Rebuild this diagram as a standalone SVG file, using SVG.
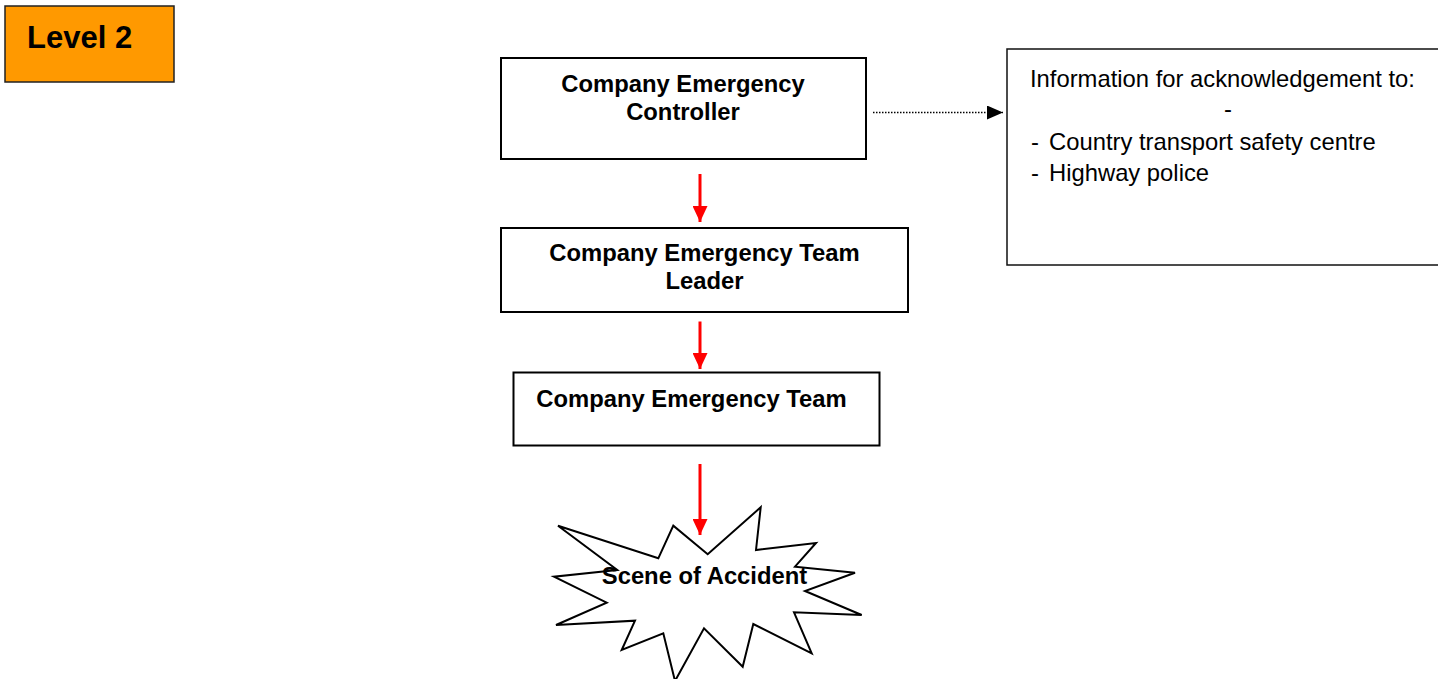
<svg xmlns="http://www.w3.org/2000/svg" width="1438" height="679" viewBox="0 0 1438 679">
<defs>
<style>
.box{fill:#fff;stroke:#000;stroke-width:2}
.b{font-family:"Liberation Sans",Arial,sans-serif;font-weight:bold;font-size:23.8px;fill:#000}
.r{font-family:"Liberation Sans",Arial,sans-serif;font-size:23.8px;fill:#000}
.red{stroke:#f00;stroke-width:3;fill:none}
</style>
<marker id="ra" viewBox="0 0 16 15" refX="16" refY="7.5" markerWidth="16" markerHeight="15" markerUnits="userSpaceOnUse" orient="auto">
<path d="M0,0L16,7.5L0,15z" fill="#f00"/>
</marker>
<marker id="ba" viewBox="0 0 16 14" refX="16" refY="7" markerWidth="16" markerHeight="14" markerUnits="userSpaceOnUse" orient="auto">
<path d="M0,0L16,7L0,14z" fill="#000"/>
</marker>
</defs>
<rect width="1438" height="679" fill="#fff"/>
<g id="level2">
<rect x="5" y="6" width="169" height="76" fill="#f90" stroke="#222" stroke-width="1.5"/>
<text x="27" y="47.5" class="b" style="font-size:31px">Level 2</text>
</g>
<g id="controller">
<rect class="box" x="501" y="58" width="365" height="101"/>
<text x="683" y="91.5" class="b" text-anchor="middle">Company Emergency</text>
<text x="683" y="120" class="b" text-anchor="middle">Controller</text>
</g>
<g id="info">
<rect x="1007" y="49" width="440" height="216" fill="#fff" stroke="#111" stroke-width="1.5"/>
<text x="1030" y="87" class="r">Information for acknowledgement to:</text>
<text x="1224" y="117" class="r">-</text>
<text x="1031" y="150" class="r">-</text>
<text x="1049" y="150" class="r">Country transport safety centre</text>
<text x="1031" y="181" class="r">-</text>
<text x="1049" y="181" class="r">Highway police</text>
</g>
<g id="leader">
<rect class="box" x="501" y="228" width="407" height="84"/>
<text x="704.5" y="261" class="b" text-anchor="middle">Company Emergency Team</text>
<text x="704.5" y="289" class="b" text-anchor="middle">Leader</text>
</g>
<g id="team">
<rect class="box" x="513.5" y="372.5" width="366" height="73"/>
<text x="691.5" y="406.5" class="b" text-anchor="middle">Company Emergency Team</text>
</g>
<g id="scene">
<polygon points="558,525.7 658.3,558.3 673.3,525.7 707.7,554.3 760.7,507.3 756,550 816,543 795,566.7 855,572.7 805,591 861.7,615 794,612.3 811.7,653.3 753.3,624 742.7,666.7 704,628.3 675,681 663.3,633.3 621.7,650 635,620.7 556,625 606.7,602.7 554,576.7 617.3,570" fill="#fff" stroke="#000" stroke-width="2" stroke-linejoin="miter"/>
<text x="704.5" y="583.5" class="b" text-anchor="middle">Scene of Accident</text>
</g>
<g id="connectors">
<line class="red" x1="700" y1="174" x2="700" y2="222" marker-end="url(#ra)"/>
<line class="red" x1="700" y1="321.5" x2="700" y2="369" marker-end="url(#ra)"/>
<line class="red" x1="700" y1="464" x2="700" y2="535" marker-end="url(#ra)"/>
<line x1="873" y1="112.5" x2="1003" y2="112.5" stroke="#000" stroke-width="1.5" stroke-dasharray="1.5,1.5" marker-end="url(#ba)"/>
</g>
</svg>
